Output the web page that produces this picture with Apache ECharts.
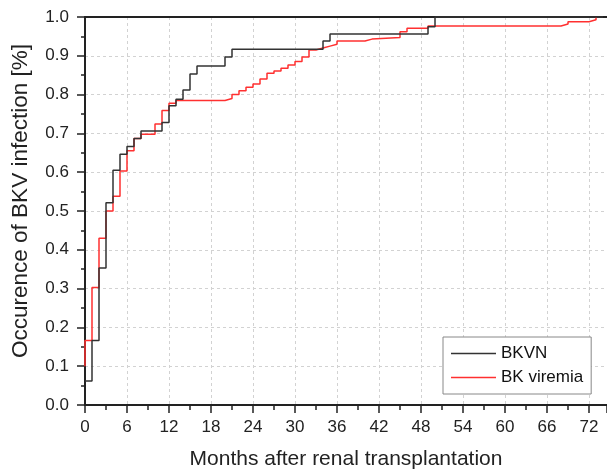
<!DOCTYPE html>
<html>
<head>
<meta charset="utf-8">
<script src="https://cdn.jsdelivr.net/npm/echarts@6/dist/echarts.min.js"></script>
<style>
html,body{margin:0;padding:0;background:#fff;}
#chart{width:607px;height:469px;}
</style>
</head>
<body>
<div id="chart"></div>
<script>
// Data
const bkvnMonths = [0, 1, 2, 3, 4, 5, 6, 7, 8, 11, 12, 13, 14, 15, 16, 20, 21, 34, 35, 49, 50, 74];
const bkvnValues = [0.062, 0.166, 0.353, 0.521, 0.605, 0.646, 0.666, 0.687, 0.706, 0.728, 0.771, 0.788, 0.812, 0.853, 0.874, 0.897, 0.917, 0.938, 0.956, 0.975, 1.0, 1.0];

const viremiaMonths = [0, 0, 1, 2, 3, 4, 5, 6, 7, 8, 10, 11, 12, 13, 20, 21, 22, 23, 24, 25, 26, 27, 28, 29, 30, 31, 32, 33, 34, 35, 36, 40, 41, 45, 46, 49, 68, 69, 72, 73];
const viremiaValues = [0.1, 0.166, 0.303, 0.43, 0.5, 0.538, 0.603, 0.655, 0.687, 0.698, 0.724, 0.759, 0.778, 0.785, 0.79, 0.8, 0.81, 0.819, 0.827, 0.84, 0.855, 0.861, 0.868, 0.876, 0.885, 0.897, 0.915, 0.92, 0.925, 0.93, 0.938, 0.943, 0.947, 0.962, 0.971, 0.977, 0.982, 0.988, 0.993, 1.0];

const seriesNames = ['BKVN', 'BK viremia'];
const xTickLabels = ['0','6','12','18','24','30','36','42','48','54','60','66','72'];
const xAxisTitle = 'Months after renal transplantation';
const yAxisTitle = 'Occurence of BKV infection [%]';

const zip = (xs, ys) => xs.map((x, i) => [x, ys[i]]);

const chart = echarts.init(document.getElementById('chart'), null, {renderer: 'canvas'});
const FONT = 'Liberation Sans, Arial, sans-serif';
chart.setOption({
  animation: false,
  backgroundColor: '#fff',
  grid: {left: 85, top: 17, right: 0, bottom: 64, containLabel: false, outerBoundsMode: 'none'},
  graphic: [{
    type: 'text',
    x: 21,
    y: 201,
    rotation: Math.PI / 2,
    style: {
      text: yAxisTitle,
      fontFamily: FONT,
      fontSize: 22.5,
      fill: '#222',
      align: 'center',
      verticalAlign: 'middle'
    }
  }],
  legend: {
    orient: 'vertical',
    left: 443,
    top: 337,
    padding: [8, 8, 8, 8],
    itemGap: 7,
    itemWidth: 45,
    itemHeight: 1.5,
    icon: 'rect',
    borderColor: '#888',
    borderWidth: 1,
    backgroundColor: '#fff',
    textStyle: {fontFamily: FONT, fontSize: 17, color: '#111', lineHeight: 17},
    data: seriesNames
  },
  xAxis: [{
    type: 'value',
    min: 0,
    max: 74.57,
    interval: 6,
    name: xAxisTitle,
    nameLocation: 'middle',
    nameGap: 44,
    nameTextStyle: {fontFamily: FONT, fontSize: 21, color: '#222'},
    axisLine: {show: true, onZero: false, lineStyle: {color: '#222', width: 2}},
    axisTick: {show: true, inside: false, length: 8, lineStyle: {color: '#222', width: 1.5}},
    minorTick: {show: true, splitNumber: 2, length: 5, lineStyle: {color: '#222', width: 1.5}},
    axisLabel: {
      fontFamily: FONT, fontSize: 17, color: '#222', margin: 14,
      showMaxLabel: false,
      formatter: v => (xTickLabels.indexOf(String(v)) >= 0 ? String(v) : '')
    },
    splitLine: {show: true, lineStyle: {color: '#d2d2d2', type: [3, 3], width: 1}}
  }, {
    type: 'value',
    position: 'top',
    min: 0,
    max: 74.57,
    axisLine: {show: true, onZero: false, lineStyle: {color: '#222', width: 2}},
    axisTick: {show: false},
    axisLabel: {show: false},
    splitLine: {show: false}
  }],
  yAxis: {
    type: 'value',
    min: 0,
    max: 1,
    interval: 0.1,
    axisLine: {show: true, lineStyle: {color: '#222', width: 2}},
    axisTick: {show: true, inside: false, length: 8, lineStyle: {color: '#222', width: 1.5}},
    minorTick: {show: true, splitNumber: 2, length: 4, lineStyle: {color: '#222', width: 1.5}},
    axisLabel: {fontFamily: FONT, fontSize: 17, color: '#222', margin: 16, formatter: v => v.toFixed(1)},
    splitLine: {show: true, lineStyle: {color: '#d2d2d2', type: [3, 3], width: 1}}
  },
  series: [{
    name: seriesNames[0],
    type: 'line',
    step: 'end',
    symbol: 'none',
    xAxisIndex: 0,
    clip: false,
    lineStyle: {color: '#333', width: 1.5},
    itemStyle: {color: '#333'},
    data: zip(bkvnMonths, bkvnValues),
    z: 3
  }, {
    name: seriesNames[1],
    type: 'line',
    step: 'end',
    symbol: 'none',
    xAxisIndex: 0,
    clip: false,
    lineStyle: {color: '#ff3030', width: 1.5},
    itemStyle: {color: '#ff3030'},
    data: zip(viremiaMonths, viremiaValues),
    z: 2
  }]
});
</script>
</body>
</html>
